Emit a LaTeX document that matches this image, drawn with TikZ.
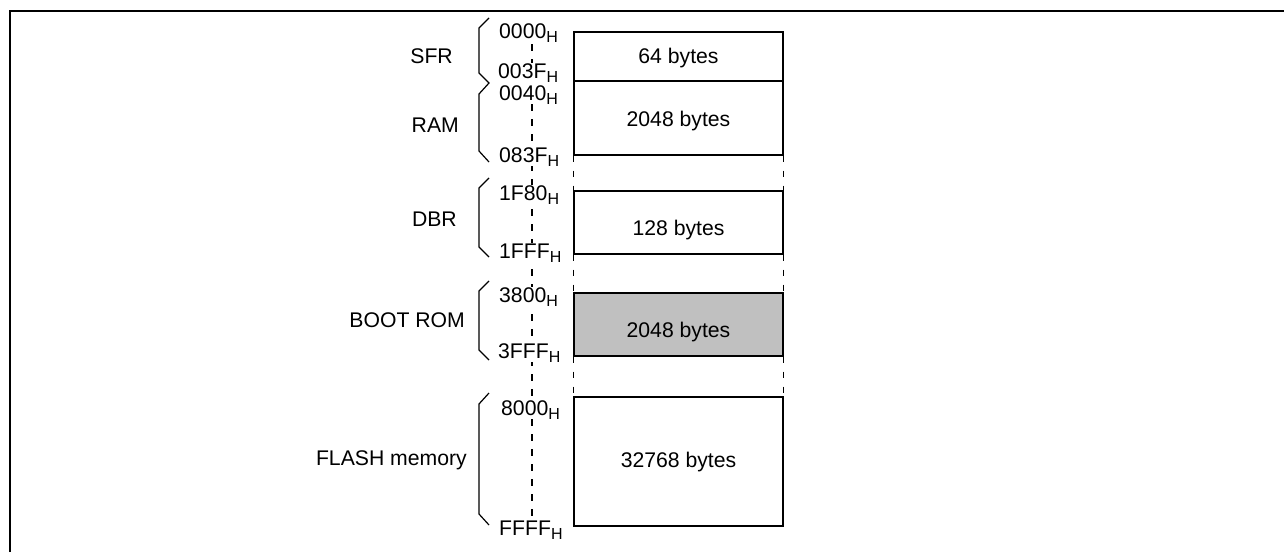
\documentclass[tikz,border=0pt]{standalone}
\usepackage{fontspec}
\setmainfont{Liberation Sans}
\newcommand{\sH}{\raisebox{-4pt}{\fontsize{16pt}{16pt}\selectfont H}}
\tikzset{
  frameline/.style={line width=2pt},
  membox/.style={draw, line width=1.4pt, minimum width=209pt, inner sep=0pt},
  romfill/.style={fill={rgb,255:red,192;green,192;blue,192}},
  brk/.style={line width=1.2pt},
  guide/.style={line width=1.3pt, dash pattern=on 6.5pt off 8.5pt},
  gap/.style={line width=1.4pt, dash pattern=on 6.5pt off 8.5pt},
  bigfont/.style={font=\fontsize{21.2pt}{25pt}\selectfont},
  addr/.style={bigfont, anchor=base west, inner sep=0pt, fill=white},
  lbl/.style={bigfont, anchor=base east, inner sep=0pt},
  txt/.style={bigfont, anchor=base, inner sep=0pt},
}
\begin{document}
\begin{tikzpicture}[x=1pt,y=-1pt]
\useasboundingbox (0,0) rectangle (1284,552);
% frame
\draw[frameline] (9.5,552) -- (9.5,11) -- (1284,11);

% vertical guide (dashed)
\coordinate (gtop) at (532,44);
\coordinate (gbot) at (532,518);
\draw[guide] (gtop) -- (gbot);

% memory boxes
\node[membox, minimum height=49pt] (sfr) at (678.5,56.5) {};
\node[membox, minimum height=74pt] (ram) at (678.5,118) {};
\node[membox, minimum height=63pt] (dbr) at (678.5,222.5) {};
\node[membox, romfill, minimum height=63pt] (boot) at (678.5,324.5) {};
\node[membox, minimum height=129pt] (flash) at (678.5,461.5) {};

% dashed gaps between boxes
\draw[gap] (ram.south west) -- (dbr.north west);
\draw[gap] (ram.south east) -- (dbr.north east);
\draw[gap] (dbr.south west) -- (boot.north west);
\draw[gap] (dbr.south east) -- (boot.north east);
\draw[gap] (boot.south west) -- (flash.north west);
\draw[gap] (boot.south east) -- (flash.north east);

% box texts
\node[txt] (tsfr) at (678.5,63) {64 bytes};
\node[txt] (tram) at (678.5,126) {2048 bytes};
\node[txt] (tdbr) at (678.5,235) {128 bytes};
\node[txt] (tboot) at (678.5,337) {2048 bytes};
\node[txt] (tflash) at (678.5,467) {32768 bytes};

% brackets
\draw[brk] (489,18) -- (479,28) -- (479,73) -- (489,83) -- (479,94) -- (479,151) -- (489,162);
\draw[brk] (489,178) -- (479,188) -- (479,247) -- (489,257);
\draw[brk] (489,281) -- (479,291) -- (479,350) -- (489,360);
\draw[brk] (489,393) -- (479,404) -- (479,514) -- (489,525);

% region labels
\node[lbl] (lsfr) at (453,63.5) {SFR};
\node[lbl] (lram) at (459,132.5) {RAM};
\node[lbl] (ldbr) at (457,226) {DBR};
\node[lbl] (lboot) at (465,327) {BOOT ROM};
\node[lbl] (lflash) at (467,465) {FLASH memory};

% addresses
\node[addr] (a0000) at (499,38) {0000\sH};
\node[addr] (a003F) at (498,78) {003F\sH};
\node[addr] (a0040) at (499,100) {0040\sH};
\node[addr] (a083F) at (499,162) {083F\sH};
\node[addr] (a1F80) at (499,200) {1F80\sH};
\node[addr] (a1FFF) at (499,258) {1FFF\sH};
\node[addr] (a3800) at (499,302) {3800\sH};
\node[addr] (a3FFF) at (498,358) {3FFF\sH};
\node[addr] (a8000) at (501,415) {8000\sH};
\node[addr] (aFFFF) at (499,535) {FFFF\sH};
\end{tikzpicture}
\end{document}
